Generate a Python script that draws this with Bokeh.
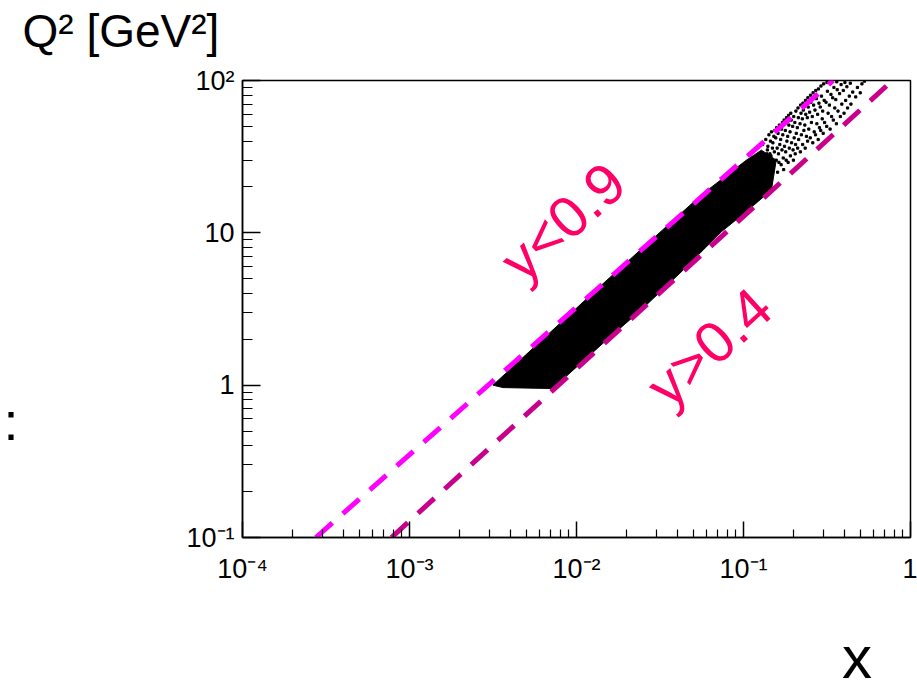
from bokeh.plotting import figure
from bokeh.models import (Range1d, FixedTicker, CustomJSTickFormatter, Label,
                          LogAxis, Title)
from bokeh.embed import file_html
from bokeh.resources import INLINE

# ---- data ----
x_ticks = [1e-4, 1e-3, 1e-2, 1e-1, 1.0]
x_tick_labels = ["10⁻⁴", "10⁻³", "10⁻²", "10⁻¹", "1"]
y_ticks = [0.1, 1.0, 10.0, 100.0]
y_tick_labels = ["10⁻¹", "1", "10", "10²"]

# dashed kinematic limits (endpoints)
line_hi_x = [2.75e-4, 0.344]      # y < 0.9
line_hi_q2 = [0.1, 100.0]
line_lo_x = [7.8e-4, 0.78]        # y > 0.4
line_lo_q2 = [0.1, 100.0]

# outline of the densely populated (solid black) region
dense_x = [3.16e-3, 0.0143, 0.0562, 0.104, 0.128, 0.157, 0.147, 0.104, 0.074,
           0.0428, 0.0247, 0.0143, 0.00946, 0.0072, 0.00363]
dense_q2 = [1.0, 4.6, 17.8, 30.0, 34.9, 30.0, 19.1, 13.8, 10.2,
            5.6, 3.16, 1.87, 1.245, 0.95, 0.964]

# sparse events at large x (x, Q2)
sparse_events = [
    (0.132, 27), (0.134, 31), (0.130, 38), (0.133, 24),
    (0.137, 29), (0.139, 35), (0.136, 41), (0.138, 33),
    (0.141, 26), (0.143, 30), (0.140, 37), (0.142, 44), (0.144, 33),
    (0.146, 32), (0.148, 28), (0.145, 40), (0.147, 46), (0.149, 36),
    (0.151, 27), (0.153, 34), (0.150, 39), (0.154, 47), (0.152, 43),
    (0.157, 30), (0.159, 36), (0.156, 42), (0.158, 49), (0.160, 25),
    (0.162, 33), (0.165, 38), (0.161, 45), (0.164, 51), (0.163, 29),
    (0.168, 28), (0.170, 35), (0.167, 41), (0.169, 48), (0.171, 53),
    (0.173, 31), (0.176, 37), (0.172, 44), (0.175, 55), (0.174, 26),
    (0.179, 34), (0.182, 40), (0.178, 47), (0.181, 57), (0.180, 30),
    (0.185, 29), (0.188, 36), (0.184, 43), (0.187, 51), (0.186, 59),
    (0.191, 32), (0.194, 39), (0.190, 46), (0.193, 55), (0.192, 61),
    (0.198, 35), (0.201, 42), (0.197, 50), (0.200, 58), (0.199, 30),
    (0.204, 33), (0.207, 45), (0.203, 53), (0.206, 63), (0.205, 38),
    (0.211, 36), (0.214, 41), (0.210, 49), (0.213, 57), (0.212, 66),
    (0.219, 34), (0.222, 44), (0.218, 52), (0.221, 61), (0.220, 69),
    (0.226, 38), (0.230, 47), (0.225, 56), (0.228, 64), (0.227, 71),
    (0.234, 36), (0.238, 43), (0.233, 51), (0.236, 60), (0.235, 74),
    (0.242, 40), (0.246, 48), (0.241, 57), (0.244, 67), (0.243, 77),
    (0.251, 42), (0.255, 53), (0.249, 62), (0.253, 72), (0.252, 80),
    (0.260, 39), (0.265, 46), (0.258, 58), (0.263, 69), (0.261, 83),
    (0.270, 44), (0.275, 52), (0.268, 64), (0.273, 76), (0.271, 86),
    (0.280, 41), (0.285, 49), (0.278, 60), (0.283, 71), (0.281, 88),
    (0.290, 47), (0.296, 56), (0.288, 67), (0.293, 79), (0.291, 92),
    (0.300, 45), (0.306, 53), (0.298, 63), (0.304, 74), (0.302, 95),
    (0.315, 50), (0.321, 61), (0.312, 72), (0.318, 85), (0.316, 97),
    (0.330, 48), (0.337, 58), (0.327, 69), (0.334, 81), (0.331, 99),
    (0.345, 55), (0.352, 66), (0.342, 77), (0.348, 90),
    (0.360, 52), (0.368, 63), (0.357, 75), (0.364, 87), (0.362, 98),
    (0.380, 58), (0.388, 70), (0.376, 82), (0.384, 94),
    (0.400, 61), (0.409, 74), (0.396, 86), (0.405, 97),
    (0.420, 66), (0.430, 79), (0.416, 91),
    (0.440, 70), (0.451, 84), (0.436, 96),
    (0.470, 78), (0.481, 90),
    (0.500, 83), (0.512, 95),
    (0.530, 99),
]

# text anchors
x_title_at = 0.478          # x position (data) of the "x" title centre
colon_at = 0.578            # Q2 position (data) of the cut-off ":" at the left edge
label_hi_pos = (0.00826, 11.9)
label_lo_pos = (0.062, 1.79)
q2_title = "Q² [GeV²]"

minor_x = [m * 10.0 ** e for e in range(-4, 0) for m in range(2, 10)]
minor_y = [m * 10.0 ** e for e in range(-1, 2) for m in range(2, 10)]

sparse_x = [e[0] for e in sparse_events]
sparse_q2 = [e[1] for e in sparse_events]

p = figure(width=917, height=693, x_axis_type="log", y_axis_type="log",
           x_range=Range1d(1e-4, 1.0), y_range=Range1d(0.1, 100.0),
           output_backend="svg", toolbar_location=None,
           min_border_left=238, min_border_right=7,
           min_border_top=80, min_border_bottom=153)
p.background_fill_color = "white"
p.border_fill_color = "white"
p.outline_line_color = "black"
p.outline_line_width = 1.5
p.grid.visible = False

fmt_code = """
const i = Math.round(Math.log10(tick)) - offset;
return labels[i];
"""
p.xaxis.ticker = FixedTicker(ticks=x_ticks, minor_ticks=minor_x)
p.yaxis.ticker = FixedTicker(ticks=y_ticks, minor_ticks=minor_y)
p.xaxis.formatter = CustomJSTickFormatter(args=dict(labels=x_tick_labels, offset=-4), code=fmt_code)
p.yaxis.formatter = CustomJSTickFormatter(args=dict(labels=y_tick_labels, offset=-1), code=fmt_code)

for ax in (p.xaxis, p.yaxis):
    ax.axis_line_color = "black"
    ax.axis_line_width = 1.5
    ax.major_tick_line_color = "black"
    ax.minor_tick_line_color = "black"
    ax.major_tick_line_width = 1.5
    ax.minor_tick_line_width = 1.2
    ax.major_tick_out = 0
    ax.minor_tick_out = 0
    ax.major_label_text_font = "Liberation Sans"
    ax.major_label_text_font_size = "27px"
    ax.major_label_text_color = "black"
p.xaxis.major_tick_in = 16
p.xaxis.minor_tick_in = 8
p.yaxis.major_tick_in = 18
p.yaxis.minor_tick_in = 10
p.xaxis.major_label_standoff = 16
p.yaxis.major_label_standoff = 8

# events
p.patch(dense_x, dense_q2, fill_color="black", line_color="black", line_width=1)
p.scatter(sparse_x, sparse_q2, marker="square", size=2.2, color="black")

# kinematic limits
p.line(line_hi_x, line_hi_q2, line_color="#ff00ff", line_width=5,
       line_dash="22 14", line_cap="butt")
p.line(line_lo_x, line_lo_q2, line_color="#c8008c", line_width=5,
       line_dash="22 14", line_cap="butt")

ang = 0.733
p.add_layout(Label(x=label_hi_pos[0], y=label_hi_pos[1], text="y<0.9", angle=ang,
                   text_align="center", text_baseline="middle",
                   text_font="Liberation Sans", text_font_size="58px",
                   text_color="#ff0066"))
p.add_layout(Label(x=label_lo_pos[0], y=label_lo_pos[1], text="y>0.4", angle=ang,
                   text_align="center", text_baseline="middle",
                   text_font="Liberation Sans", text_font_size="58px",
                   text_color="#ff0066"))


def text_axis(axis, text, size, standoff, at):
    axis.ticker = FixedTicker(ticks=[at], minor_ticks=[])
    axis.formatter = CustomJSTickFormatter(args=dict(t=text), code="return t;")
    axis.axis_line_color = None
    axis.major_tick_line_color = None
    axis.minor_tick_line_color = None
    axis.major_tick_in = 0
    axis.major_tick_out = 0
    axis.minor_tick_in = 0
    axis.minor_tick_out = 0
    axis.major_label_standoff = standoff
    axis.major_label_text_font = "Liberation Sans"
    axis.major_label_text_font_size = size
    axis.major_label_text_color = "black"
    return axis


# "x" title below the x axis
p.add_layout(text_axis(LogAxis(), "x", "60px", 37, x_title_at), "below")

# thin invisible spacer above the frame, then the Q2 title outside it
p.add_layout(text_axis(LogAxis(), "\u00a0", "16px", 3, 0.01), "above")
p.add_layout(Title(text=q2_title, align="left", offset=-220, standoff=2,
                   text_font="Liberation Sans", text_font_size="46px",
                   text_font_style="normal", text_color="black"), "above")

# ":" cut off at the left edge
p.add_layout(text_axis(LogAxis(), ":", "54px", 165, colon_at), "left")

open("out.html", "w").write(file_html(p, INLINE))
